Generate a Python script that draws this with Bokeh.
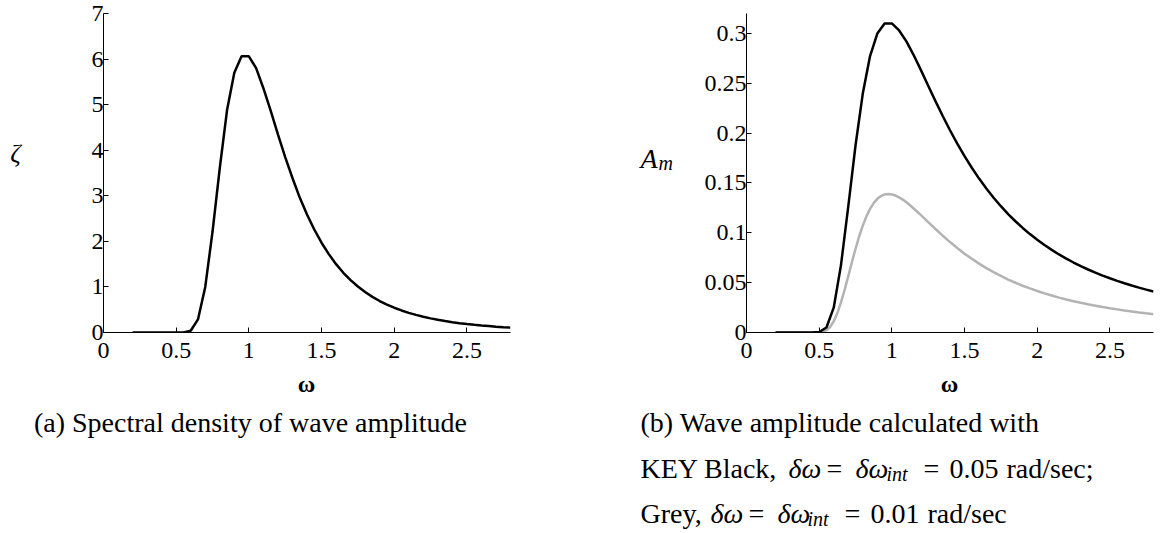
from bokeh.plotting import figure
from bokeh.layouts import row, column
from bokeh.models import Range1d, FixedTicker
from bokeh.core.properties import value
from bokeh.embed import file_html
from bokeh.resources import INLINE

# ---------------- data ----------------
omega = [0.20, 0.25, 0.30, 0.35, 0.40, 0.45, 0.50, 0.55, 0.60, 0.65,
         0.70, 0.75, 0.80, 0.85, 0.90, 0.95, 1.00, 1.05, 1.10, 1.15,
         1.20, 1.25, 1.30, 1.35, 1.40, 1.45, 1.50, 1.55, 1.60, 1.65,
         1.70, 1.75, 1.80, 1.85, 1.90, 1.95, 2.00, 2.05, 2.10, 2.15,
         2.20, 2.25, 2.30, 2.35, 2.40, 2.45, 2.50, 2.55, 2.60, 2.65,
         2.70, 2.75, 2.80]

zeta = [0.0, 0.0, 0.0, 0.0, 0.0, 0.0, 0.0, 0.0016, 0.039, 0.287,
        1.00, 2.21, 3.61, 4.88, 5.70, 6.06, 6.06, 5.80, 5.36, 4.87,
        4.35, 3.85, 3.39, 2.96, 2.59, 2.26, 1.97, 1.72, 1.50, 1.31,
        1.15, 1.01, 0.887, 0.782, 0.691, 0.612, 0.544, 0.484, 0.431, 0.386,
        0.345, 0.310, 0.279, 0.251, 0.227, 0.205, 0.186, 0.169, 0.153, 0.140,
        0.127, 0.116, 0.107]

amp_black = [0.0, 0.0, 0.0, 0.0, 0.0, 0.0, 0.0004, 0.0050, 0.0249, 0.0676,
             0.1262, 0.1876, 0.2397, 0.2773, 0.2999, 0.3100, 0.3100, 0.3030, 0.2920, 0.2783,
             0.2632, 0.2476, 0.2321, 0.2172, 0.2029, 0.1895, 0.1769, 0.1653, 0.1544, 0.1444,
             0.1352, 0.1267, 0.1188, 0.1116, 0.1049, 0.0987, 0.0930, 0.0877, 0.0829, 0.0783,
             0.0741, 0.0702, 0.0666, 0.0632, 0.0601, 0.0571, 0.0544, 0.0518, 0.0494, 0.0471,
             0.0450, 0.0430, 0.0412]

omega_grey = [0.20, 0.25, 0.30, 0.35, 0.40, 0.45, 0.50, 0.525, 0.55, 0.575,
              0.60, 0.625, 0.65, 0.675, 0.70, 0.725, 0.75, 0.775, 0.80, 0.825,
              0.85, 0.875, 0.90, 0.925, 0.95, 0.975, 1.00, 1.025, 1.05, 1.075,
              1.10, 1.125, 1.15, 1.175, 1.20, 1.25, 1.30, 1.35, 1.40, 1.45,
              1.50, 1.55, 1.60, 1.65, 1.70, 1.75, 1.80, 1.85, 1.90, 1.95,
              2.00, 2.05, 2.10, 2.15, 2.20, 2.25, 2.30, 2.35, 2.40, 2.45,
              2.50, 2.55, 2.60, 2.65, 2.70, 2.75, 2.80]

amp_grey = [0.0, 0.0, 0.0, 0.0, 0.0, 0.0, 0.0002, 0.0007, 0.0023, 0.0055,
            0.0111, 0.0195, 0.0302, 0.0428, 0.0564, 0.0705, 0.0839, 0.0963, 0.1072, 0.1165,
            0.1240, 0.1298, 0.1341, 0.1369, 0.1385, 0.1390, 0.1385, 0.1374, 0.1355, 0.1333,
            0.1306, 0.1276, 0.1244, 0.1211, 0.1177, 0.1107, 0.1038, 0.0971, 0.0907, 0.0847,
            0.0791, 0.0739, 0.0691, 0.0646, 0.0605, 0.0567, 0.0531, 0.0499, 0.0469, 0.0442,
            0.0416, 0.0392, 0.0371, 0.0350, 0.0331, 0.0314, 0.0298, 0.0283, 0.0269, 0.0255,
            0.0243, 0.0232, 0.0221, 0.0211, 0.0201, 0.0192, 0.0184]

x_ticks = [0, 0.5, 1, 1.5, 2, 2.5]
x_tick_labels = ["0", "0.5", "1", "1.5", "2", "2.5"]
y1_ticks = [0, 1, 2, 3, 4, 5, 6, 7]
y1_tick_labels = ["0", "1", "2", "3", "4", "5", "6", "7"]
y2_ticks = [0, 0.05, 0.1, 0.15, 0.2, 0.25, 0.3]
y2_tick_labels = ["0", "0.05", "0.1", "0.15", "0.2", "0.25", "0.3"]

SERIF = "Liberation Serif"
TICK_PX = "24px"
TOP_H = 370
CAP_H = 160
TOTAL_W = 1170


def make_plot(width, bl, br, yr, yticks, ylabels):
    p = figure(width=width, height=TOP_H, output_backend="svg", toolbar_location=None,
               x_range=Range1d(0, 2.8), y_range=Range1d(*yr),
               min_border_left=bl, min_border_right=br,
               min_border_top=13, min_border_bottom=TOP_H - 332)
    p.outline_line_color = None
    p.grid.visible = False
    p.xaxis.ticker = FixedTicker(ticks=x_ticks)
    p.xaxis.major_label_overrides = {t: l for t, l in zip(x_ticks, x_tick_labels)}
    p.yaxis.ticker = FixedTicker(ticks=yticks)
    p.yaxis.major_label_overrides = {t: l for t, l in zip(yticks, ylabels)}
    for ax in (p.xaxis, p.yaxis):
        ax.major_tick_in = 5
        ax.major_tick_out = 0
        ax.minor_tick_line_color = None
        ax.axis_line_color = "black"
        ax.major_tick_line_color = "black"
        ax.major_label_text_font = SERIF
        ax.major_label_text_font_size = TICK_PX
        ax.major_label_text_color = "black"
    p.xaxis.major_label_standoff = 10
    p.yaxis.major_label_standoff = 0
    return p


def blank(width, height, xr, yr):
    p = figure(width=width, height=height, output_backend="svg", toolbar_location=None,
               x_range=Range1d(*xr), y_range=Range1d(*yr),
               x_axis_location=None, y_axis_location=None,
               min_border=0, min_border_left=0, min_border_right=0,
               min_border_top=0, min_border_bottom=0)
    p.outline_line_color = None
    p.grid.visible = False
    return p


def txt(p, x, y, s, size, style="normal", align="left", baseline="alphabetic"):
    p.text(x=[x], y=[y], text=[s], text_font=value(SERIF), text_font_size=value(f"{size}px"),
           text_font_style=style, text_align=align, text_baseline=baseline,
           text_color="black")


# ---------------- left panel ----------------
zfig = blank(40, TOP_H, (0, 40), (TOP_H, 0))
txt(zfig, 15, 162, "ζ", 26, "italic", align="center", baseline="middle")

p1 = make_plot(598, 63, 128, (0, 7), y1_ticks, y1_tick_labels)
p1.line(omega, zeta, line_color="black", line_width=2.5)

# ---------------- right panel ----------------
afig = blank(52, TOP_H, (638, 690), (TOP_H, 0))
txt(afig, 640, 168, "A", 28, "italic")
txt(afig, 658, 173, "m", 20, "italic")

p2 = make_plot(480, 56, 17, (0, 0.32), y2_ticks, y2_tick_labels)
p2.line(omega_grey, amp_grey, line_color="#b3b3b3", line_width=2.5)
p2.line(omega, amp_black, line_color="black", line_width=2.5)

# ---------------- axis names and captions ----------------
cap = blank(TOTAL_W, CAP_H, (0, TOTAL_W), (TOP_H + CAP_H, TOP_H))
txt(cap, 306, 383, "ω", 24, "bold", align="center")
txt(cap, 949, 383, "ω", 24, "bold", align="center")
txt(cap, 250, 422, "(a) Spectral density of wave amplitude", 28, align="center")
txt(cap, 640, 422, "(b) Wave amplitude calculated with", 28)

L2 = 468
txt(cap, 640, L2, "KEY Black,", 28)
txt(cap, 788, L2, "δω", 28, "italic")
txt(cap, 826, L2, "=", 28)
txt(cap, 855, L2, "δω", 28, "italic")
txt(cap, 886, L2 + 5, "int", 20, "italic")
txt(cap, 923, L2, "=", 28)
txt(cap, 949, L2, "0.05", 28)
txt(cap, 1006, L2, "rad/sec;", 28)

L3 = 513
txt(cap, 640, L3, "Grey,", 28)
txt(cap, 710, L3, "δω", 28, "italic")
txt(cap, 748, L3, "=", 28)
txt(cap, 777, L3, "δω", 28, "italic")
txt(cap, 807, L3 + 5, "int", 20, "italic")
txt(cap, 844, L3, "=", 28)
txt(cap, 870, L3, "0.01", 28)
txt(cap, 927, L3, "rad/sec", 28)

layout = column(row(zfig, p1, afig, p2), cap)
open("out.html", "w").write(file_html(layout, INLINE))
